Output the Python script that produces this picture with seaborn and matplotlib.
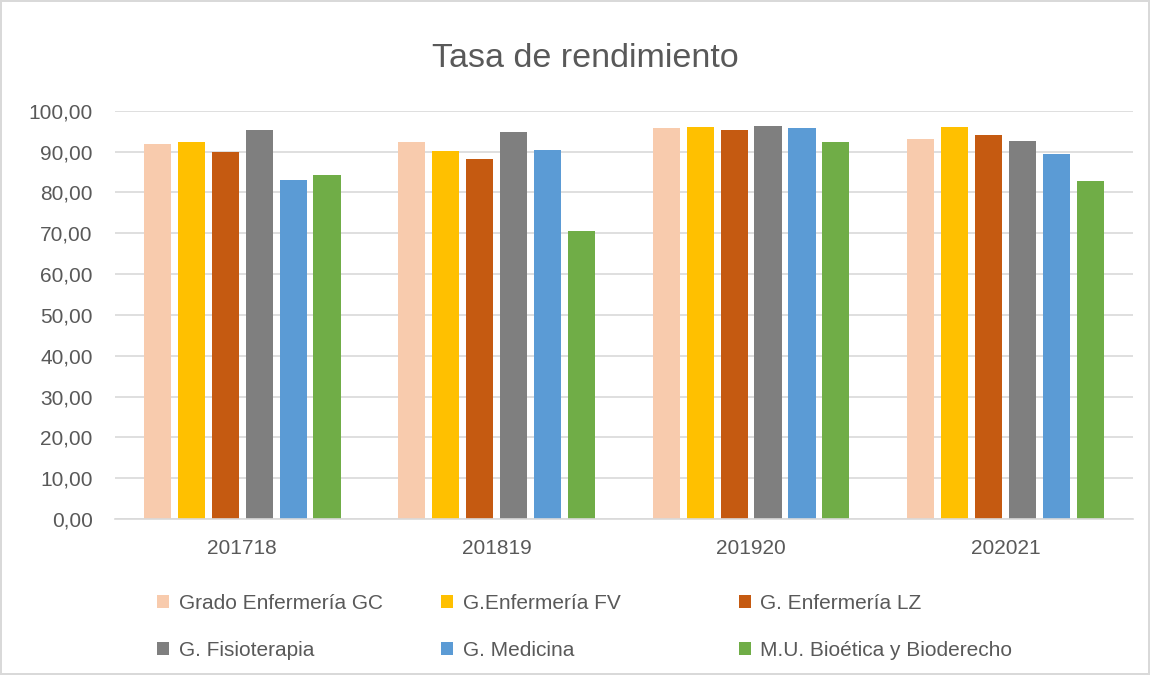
import matplotlib
matplotlib.use("Agg")
import matplotlib.pyplot as plt
import seaborn as sns
import pandas as pd
from matplotlib.ticker import FuncFormatter

# Data
cursos = ["201718", "201819", "201920", "202021"]
titulaciones = ["Grado Enfermería GC", "G.Enfermería FV", "G. Enfermería LZ",
                "G. Fisioterapia", "G. Medicina", "M.U. Bioética y Bioderecho"]
enfermeria_gc = [91.9, 92.4, 95.8, 93.1]
enfermeria_fv = [92.4, 90.2, 96.1, 96.1]
enfermeria_lz = [90.0, 88.2, 95.3, 94.1]
fisioterapia = [95.3, 94.9, 96.3, 92.6]
medicina = [83.1, 90.4, 95.8, 89.5]
bioetica = [84.3, 70.5, 92.4, 82.9]
colores = ["#F8CBAD", "#FFC000", "#C55A11", "#7F7F7F", "#5B9BD5", "#70AD47"]

series = [enfermeria_gc, enfermeria_fv, enfermeria_lz, fisioterapia, medicina, bioetica]
rows = []
for tit, vals in zip(titulaciones, series):
    for curso, v in zip(cursos, vals):
        rows.append({"Curso": curso, "Titulación": tit, "Tasa": v})
df = pd.DataFrame(rows)

sns.set_theme(style="white")
plt.rcParams["font.family"] = ["Liberation Sans", "DejaVu Sans"]

fig = plt.figure(figsize=(11.5, 6.75), dpi=100)
fig.patch.set_edgecolor("#D9D9D9")
fig.patch.set_linewidth(1.5)
ax = fig.add_axes([0.1, 0.231, 0.885, 0.605])

sns.barplot(data=df, x="Curso", y="Tasa", hue="Titulación", order=cursos,
            hue_order=titulaciones, palette=colores, width=0.8, gap=0.2,
            saturation=1, linewidth=0, ax=ax, errorbar=None)

ax.set_ylim(0, 100)
ax.set_yticks(range(0, 101, 10))
ax.yaxis.set_major_formatter(FuncFormatter(lambda v, p: f"{v:.2f}".replace(".", ",")))
ax.grid(axis="y", color="#D9D9D9", linewidth=1.2)
ax.set_axisbelow(True)
for s in ["top", "right", "left"]:
    ax.spines[s].set_visible(False)
ax.spines["bottom"].set_color("#D9D9D9")
ax.spines["bottom"].set_linewidth(1.2)
ax.tick_params(axis="both", labelsize=15, labelcolor="#595959", length=0)
ax.tick_params(axis="y", pad=16)
ax.tick_params(axis="x", pad=14)
ax.set_xlabel("")
ax.set_ylabel("")
fig.text(0.509, 0.913, "Tasa de rendimiento", ha="center", va="center",
         fontsize=24.5, color="#595959")

handles, labels = ax.get_legend_handles_labels()
ax.get_legend().remove()
xs = [0.129, 0.376, 0.635]
for i, x in enumerate(xs):
    leg = fig.legend([handles[i], handles[i + 3]], [labels[i], labels[i + 3]],
                     loc="upper left", bbox_to_anchor=(x, 0.133), frameon=False,
                     fontsize=15, handlelength=0.6, handleheight=0.6,
                     handletextpad=0.45, labelspacing=1.35, borderaxespad=0)
    for t in leg.get_texts():
        t.set_color("#595959")

fig.savefig("out.png", dpi=100)
